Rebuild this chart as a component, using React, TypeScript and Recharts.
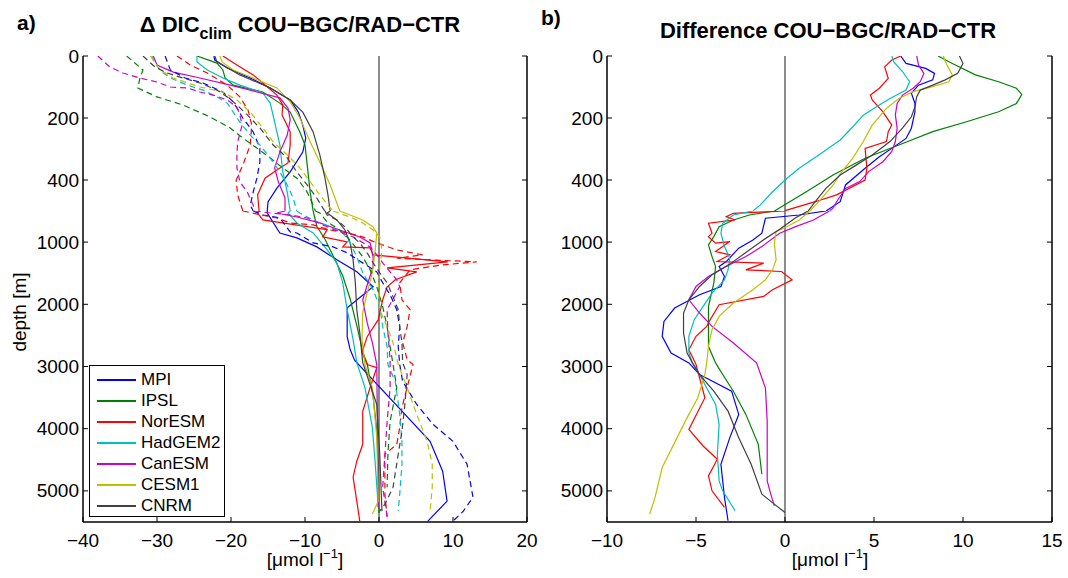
import React from "react";
import { ScatterChart, Scatter, XAxis, YAxis, ReferenceLine, Legend } from "recharts";

// [depth m, value µmol/l]
type Pt = [number, number];

const models = ["MPI", "IPSL", "NorESM", "HadGEM2", "CanESM", "CESM1", "CNRM"];
const colors = ["#0000ff", "#008000", "#ff0000", "#00bfbf", "#cc00cc", "#bfbf00", "#404040"];

const xTicksA = [-40, -30, -20, -10, 0, 10, 20];
const xTicksB = [-10, -5, 0, 5, 10, 15];
const yTicksTop = [0, 200, 400];
const yTicksBot = [1000, 2000, 3000, 4000, 5000];

// panel a, solid lines
const mpiA: Pt[] = [[0, -22.3], [13, -22.2], [39, -20.5], [71, -17.4], [103, -14.7], [142, -12.0], [181, -10.9], [223, -10.3], [265, -9.9], [310, -10.3], [374, -12.0], [426, -13.8], [471, -15.0], [500, -15.1], [532, -15.1], [853, -13.4], [933, -11.1], [1077, -8.4], [1285, -5.7], [1478, -3.0], [1718, -0.8], [2055, -4.3], [2520, -4.3], [2728, -3.9], [2900, -3.3], [4203, 6.9], [4684, 8.6], [5165, 9.2], [5486, 6.6]];
const ipslA: Pt[] = [[0, -24.6], [23, -21.9], [45, -21.1], [71, -20.8], [94, -19.7], [116, -15.7], [152, -13.4], [181, -12.0], [245, -10.7], [287, -10.0], [352, -9.7], [439, -9.3], [500, -8.9], [745, -8.4], [953, -7.3], [1221, -6.2], [1542, -4.9], [1911, -3.9], [2344, -3.0], [2761, -2.2], [2953, -1.6], [3481, -0.8], [4026, -0.3], [4555, -0.1], [5356, 0]];
const noresmA: Pt[] = [[0, -21.1], [29, -19.2], [61, -17.0], [87, -15.7], [126, -13.8], [158, -13.0], [190, -13.1], [245, -12.0], [287, -12.0], [345, -12.3], [368, -13.8], [394, -15.4], [448, -16.4], [500, -16.2], [532, -16.4], [644, -15.7], [800, -7.0], [917, -7.6], [997, -4.3], [1077, -4.9], [1093, -1.2], [1205, -0.8], [1318, 9.3], [1414, 1.1], [1478, 5.1], [1606, 2.2], [1718, 1.1], [1927, 0.5], [2247, -0.1], [2520, -1.6], [2776, -2.3], [2969, -1.6], [3017, -0.3], [3337, -1.2], [3722, -2.2], [4251, -2.2], [4523, -3.0], [4780, -3.5], [5165, -3.0], [5485, -2.6]];
const hadA: Pt[] = [[0, -24.6], [19, -24.6], [45, -23.2], [71, -21.1], [94, -18.8], [119, -15.7], [152, -14.7], [213, -14.1], [287, -13.4], [374, -13.0], [439, -12.4], [500, -12.0], [532, -12.3], [692, -11.1], [853, -8.9], [1125, -7.0], [1334, -5.7], [1654, -4.9], [2087, -4.3], [2568, -3.5], [2937, -3.0], [3337, -1.9], [3978, -0.9], [4572, -0.5], [5261, -0.1]];
const canA: Pt[] = [[0, -30.5], [29, -30.0], [52, -27.8], [71, -24.2], [94, -20.1], [116, -16.5], [135, -13.4], [168, -12.3], [206, -12.0], [255, -12.4], [310, -13.4], [361, -14.1], [406, -13.6], [458, -12.7], [500, -12.7], [532, -13.8], [596, -11.1], [692, -8.0], [805, -5.3], [917, -2.6], [1013, -1.2], [1237, -0.8], [1398, -0.8], [1654, -1.5], [1927, -2.2], [2295, -1.6], [2616, -0.9], [2969, -0.3], [5261, -0.1]];
const cesmA: Pt[] = [[0, -21.5], [19, -21.2], [45, -19.7], [71, -17.0], [103, -13.8], [148, -12.0], [200, -10.7], [277, -9.3], [342, -8.0], [416, -6.6], [500, -5.3], [564, -3.9], [644, -2.2], [756, -0.8], [853, -0.3], [1125, -0.5], [1494, -0.9], [1814, -1.6], [2135, -2.2], [2568, -2.3], [2969, -1.9], [3337, -0.9], [4139, -0.3], [5165, -0.1], [5373, -0.9]];
const cnrmA: Pt[] = [[0, -22.2], [19, -21.9], [61, -18.8], [103, -14.7], [142, -12.0], [181, -10.3], [245, -8.9], [319, -8.0], [394, -7.3], [448, -6.9], [500, -6.6], [532, -7.0], [644, -5.7], [805, -4.6], [1013, -3.9], [1285, -3.5], [1654, -3.2], [2087, -3.0], [2456, -2.6], [2937, -2.2], [3610, -0.3], [4411, 0.1], [5325, 0.4]];

// panel a, dashed lines
const mpiAd: Pt[] = [[0, -28.9], [45, -28.2], [71, -26.2], [87, -23.8], [116, -21.1], [148, -19.7], [200, -18.4], [245, -17.0], [297, -16.1], [342, -16.1], [394, -16.5], [439, -17.0], [481, -17.4], [500, -17.0], [564, -15.7], [612, -13.4], [837, -12.0], [853, -11.1], [1013, -8.9], [1077, -6.2], [1173, -4.3], [1334, -2.2], [1478, -0.3], [1654, 0.5], [1847, 1.5], [2087, 2.4], [2360, 2.8], [2680, 2.6], [2969, 2.8], [3241, 3.2], [3610, 5.1], [3930, 7.3], [4203, 10.0], [4572, 11.9], [5101, 12.7], [5325, 11.4], [5485, 10.0]];
const ipslAd: Pt[] = [[0, -34.1], [45, -31.9], [71, -32.3], [103, -32.6], [132, -30.0], [158, -26.5], [197, -22.8], [232, -20.1], [265, -18.4], [297, -16.5], [329, -14.7], [361, -13.0], [394, -11.1], [439, -9.7], [481, -8.9], [500, -8.6], [532, -8.0], [676, -7.0], [773, -5.7], [917, -4.3], [1077, -3.2], [1237, -2.2], [1446, -1.2], [1718, -0.3], [2039, 0.5], [2360, 1.1], [2680, 1.5], [2969, 1.9], [3337, 2.4], [3882, 1.5], [4411, 1.2], [4940, 1.1]];
const noresmAd: Pt[] = [[0, -27.3], [29, -25.5], [55, -23.2], [94, -20.5], [132, -18.8], [174, -17.7], [223, -17.2], [287, -17.4], [352, -18.4], [400, -19.3], [448, -19.1], [500, -18.4], [560, -16.0], [612, -13.8], [692, -12.0], [724, -8.9], [805, -6.6], [853, -4.3], [917, -2.2], [1013, -0.3], [1125, 2.4], [1205, 5.9], [1260, 2.4], [1290, 7.8], [1318, 13.2], [1366, 8.6], [1446, 4.2], [1654, 2.8], [1927, 3.1], [2087, 4.2], [2360, 3.8], [2616, 3.2], [2889, 3.8], [2969, 4.6], [3337, 3.8], [3658, 3.1], [3978, 2.8], [4251, 2.4], [4411, 0.8], [5053, 0.8], [5421, 1.1]];
const hadAd: Pt[] = [[0, -30.7], [23, -30.3], [52, -29.3], [71, -28.2], [94, -25.9], [110, -23.8], [132, -21.9], [152, -20.5], [181, -19.7], [213, -18.8], [255, -17.4], [287, -16.1], [329, -14.7], [374, -13.4], [416, -12.4], [458, -11.6], [500, -11.1], [532, -10.7], [644, -8.9], [756, -6.6], [853, -4.9], [1013, -3.9], [1237, -3.0], [1494, -2.2], [1766, -0.8], [2039, 0.1], [2360, 0.5], [2680, 1.1], [2969, 1.2], [3241, 2.2], [3770, 2.8], [4203, 3.1], [4572, 3.1], [5053, 2.8], [5325, 2.6]];
const canAd: Pt[] = [[0, -38.0], [35, -36.4], [55, -34.6], [71, -32.3], [84, -30.0], [100, -28.2], [103, -25.9], [116, -24.2], [126, -22.4], [142, -20.5], [165, -19.2], [190, -18.8], [223, -18.5], [277, -19.1], [319, -19.2], [361, -19.2], [406, -18.8], [439, -17.8], [481, -17.0], [500, -16.8], [532, -14.7], [564, -12.0], [612, -9.7], [724, -7.6], [837, -5.3], [917, -3.5], [1077, -1.2], [1205, -0.3], [1334, 0.5], [1478, 1.5], [1606, 2.4], [1718, 2.8], [2087, 1.1], [2456, 1.2], [2889, 1.5], [3337, 1.5], [3882, 1.1], [4411, 0.8], [4940, 0.5], [5421, 1.1]];
const cesmAd: Pt[] = [[0, -30.9], [45, -29.6], [71, -27.8], [100, -24.2], [116, -21.1], [142, -19.2], [181, -17.4], [232, -15.7], [277, -14.3], [319, -12.4], [361, -10.7], [406, -9.3], [448, -8.0], [490, -6.6], [500, -6.2], [532, -5.5], [596, -3.9], [692, -2.2], [805, -0.8], [917, 0.1], [1125, 0.4], [1398, 0.1], [1766, -0.1], [2087, 0.1], [2360, 1.1], [2616, 1.9], [2969, 2.6], [3337, 3.8], [3770, 5.1], [4203, 6.5], [4572, 7.2], [4940, 7.2], [5325, 6.9]];
const cnrmAd: Pt[] = [[0, -31.9], [35, -30.3], [55, -28.6], [71, -26.5], [87, -24.2], [110, -21.9], [132, -20.5], [158, -19.2], [190, -17.8], [232, -16.1], [287, -14.3], [329, -12.4], [374, -11.1], [416, -9.7], [458, -8.4], [490, -7.6], [500, -7.3], [564, -7.0], [644, -5.7], [756, -4.6], [917, -3.5], [1013, -2.6], [1173, -1.6], [1334, -0.8], [1494, 0.1], [1654, 1.1], [1879, 1.9], [2087, 2.6], [2360, 2.8], [2616, 3.1], [2937, 3.2], [3129, 3.8], [3610, 3.5], [4043, 3.1], [4411, 2.6], [4940, 1.9], [5213, 0.8], [5325, 0.1]];

// panel b, differences
const mpiB: Pt[] = [[0, 6.5], [24, 6.8], [40, 7.9], [56, 8.4], [77, 8.3], [94, 7.5], [120, 7.1], [153, 7.3], [180, 7.3], [233, 7.1], [266, 6.8], [298, 6.0], [325, 5.3], [362, 4.5], [416, 3.4], [470, 3.1], [500, 2.3], [564, 0.8], [617, -1.1], [857, -1.3], [965, -1.8], [1098, -2.6], [1313, -3.3], [1393, -3.7], [1553, -3.4], [1713, -3.6], [1847, -4.8], [2060, -6.2], [2275, -6.8], [2515, -6.9], [2782, -6.4], [2942, -5.4], [3129, -4.8], [3397, -3.0], [3770, -2.6], [4144, -3.1], [4571, -3.6], [5105, -3.4], [5480, -3.2]];
const ipslB: Pt[] = [[0, 8.6], [24, 9.4], [61, 10.7], [83, 12.0], [104, 13.0], [124, 13.3], [153, 13.0], [180, 12.0], [212, 10.2], [244, 8.3], [287, 6.4], [330, 4.5], [384, 2.7], [438, 1.2], [497, -0.5], [500, -0.6], [564, -2.0], [644, -2.9], [752, -3.7], [912, -4.0], [1045, -4.3], [1233, -4.1], [1393, -3.9], [1659, -4.0], [2034, -4.3], [2355, -4.3], [2676, -4.3], [2942, -3.9], [3129, -3.5], [3397, -2.9], [3770, -2.2], [4251, -1.5], [4732, -1.3]];
const noresmB: Pt[] = [[0, 6.5], [13, 6.0], [35, 5.6], [72, 5.8], [104, 5.3], [126, 4.8], [142, 4.9], [180, 5.5], [223, 6.0], [244, 5.8], [276, 5.7], [298, 4.5], [362, 4.6], [400, 4.5], [448, 2.9], [470, 1.7], [497, 0.1], [500, 0.0], [537, -2.9], [591, -3.3], [644, -2.8], [697, -4.3], [857, -4.1], [912, -4.3], [1018, -3.9], [992, -3.1], [1152, -3.9], [1205, -3.1], [1313, -3.8], [1339, -1.2], [1446, -2.2], [1473, -0.2], [1606, 0.4], [1766, -0.7], [1874, -1.2], [2007, -3.7], [2247, -4.2], [2355, -4.4], [2515, -5.0], [2729, -5.4], [2969, -5.0], [3503, -4.5], [4011, -5.4], [4278, -4.6], [4491, -3.8], [4759, -4.3], [4999, -4.1], [5266, -3.4], [5507, -4.0]];
const hadB: Pt[] = [[0, 6.0], [18, 6.1], [50, 6.6], [83, 7.0], [110, 6.8], [137, 5.9], [158, 5.3], [191, 4.4], [229, 3.8], [271, 3.1], [319, 1.9], [362, 0.8], [395, 0.1], [438, -0.7], [481, -1.4], [500, -1.8], [564, -2.9], [697, -3.5], [857, -3.6], [1072, -3.4], [1259, -3.1], [1446, -3.2], [1606, -3.4], [1820, -4.1], [2034, -4.6], [2247, -5.1], [2515, -5.4], [2782, -5.4], [2942, -5.2], [3129, -4.8], [3397, -4.3], [3610, -3.9], [3931, -3.7], [4411, -3.8], [4839, -3.7], [4999, -3.5], [5320, -2.8]];
const canB: Pt[] = [[0, 7.4], [29, 7.5], [56, 7.8], [83, 7.6], [104, 7.2], [126, 6.6], [153, 6.3], [190, 6.2], [233, 6.3], [276, 6.2], [308, 6.0], [341, 5.5], [373, 4.7], [405, 4.2], [427, 3.4], [470, 2.9], [491, 2.7], [500, 2.5], [644, 1.6], [752, 0.6], [857, -0.3], [1072, -1.3], [1233, -2.2], [1393, -3.3], [1553, -4.3], [1713, -5.0], [1927, -5.4], [2140, -4.8], [2355, -4.1], [2621, -2.9], [2942, -1.6], [3343, -1.1], [3878, -1.0], [4839, -1.0], [5053, -0.8], [5240, -0.6]];
const cesmB: Pt[] = [[0, 8.9], [18, 9.0], [61, 9.4], [83, 9.2], [99, 8.3], [115, 7.2], [137, 6.4], [169, 5.7], [223, 4.9], [276, 4.4], [330, 3.8], [373, 3.2], [416, 2.7], [470, 1.9], [500, 1.4], [644, 0.8], [752, 0.1], [832, -0.5], [1018, -0.6], [1286, -0.5], [1446, -0.7], [1606, -1.1], [1766, -1.8], [1980, -2.9], [2194, -3.7], [2408, -4.1], [2676, -4.3], [2942, -4.4], [3129, -4.5], [3503, -4.9], [3878, -5.6], [4625, -6.9], [5105, -7.3], [5373, -7.6]];
const cnrmB: Pt[] = [[0, 9.8], [24, 10.0], [56, 9.7], [77, 9.0], [94, 8.3], [110, 7.6], [131, 7.4], [164, 7.3], [196, 7.1], [233, 6.6], [276, 5.9], [319, 4.9], [352, 4.0], [384, 3.1], [427, 2.3], [470, 1.7], [500, 1.3], [607, 0.6], [794, -0.3], [981, -1.3], [1167, -2.2], [1354, -3.1], [1526, -4.1], [1713, -4.8], [1927, -5.4], [2140, -5.7], [2462, -5.7], [2782, -5.5], [2942, -5.2], [3129, -4.8], [3397, -4.0], [3718, -3.2], [4144, -2.6], [4571, -1.9], [5052, -1.3], [5213, -0.6], [5346, 0]];

const solidA = [mpiA, ipslA, noresmA, hadA, canA, cesmA, cnrmA];
const dashedA = [mpiAd, ipslAd, noresmAd, hadAd, canAd, cesmAd, cnrmAd];
const diffB = [mpiB, ipslB, noresmB, hadB, canB, cesmB, cnrmB];

const FONT = "'Liberation Sans', Arial, Helvetica, sans-serif";
const TICK = 5;
const AXW = 83;
const RM = 13;

type Series = { pts: Pt[]; color: string; dashed: boolean; name?: string };

const seriesA: Series[] = [
  ...solidA.map((pts, i) => ({ pts, color: colors[i], dashed: false, name: models[i] })),
  ...dashedA.map((pts, i) => ({ pts, color: colors[i], dashed: true })),
];
const seriesB: Series[] = diffB.map((pts, i) => ({ pts, color: colors[i], dashed: false }));

const part = (pts: Pt[], lo: number, hi: number) =>
  pts.filter(([d]) => d >= lo && d <= hi).map(([d, v]) => ({ x: v, y: d }));

const noDot = () => <g />;
const fmt = (v: number) => (v < 0 ? `\u2212${Math.abs(v)}` : `${v}`);

function LeftTick(props: any) {
  const { x, y, payload } = props;
  return (
    <g>
      <line x1={x + 4} x2={x + 4 + TICK} y1={y} y2={y} stroke="#000" strokeWidth={1} />
      <text x={x} y={y} textAnchor="end" dominantBaseline="central" fontSize={19} fontFamily={FONT} fill="#000">
        {payload.value}
      </text>
    </g>
  );
}

function RightTick(props: any) {
  const { x, y } = props;
  return <line x1={x - TICK} x2={x} y1={y} y2={y} stroke="#000" strokeWidth={1} />;
}

function TopTick(props: any) {
  const { x, y } = props;
  return <line x1={x} x2={x} y1={y} y2={y + TICK} stroke="#000" strokeWidth={1} />;
}

function BottomTickPlain(props: any) {
  const { x, y } = props;
  return <line x1={x} x2={x} y1={y - 8} y2={y - 8 - TICK} stroke="#000" strokeWidth={1} />;
}

function BottomTickLabel(props: any) {
  const { x, y, payload } = props;
  return (
    <g>
      <line x1={x} x2={x} y1={y - 8} y2={y - 8 - TICK} stroke="#000" strokeWidth={1} />
      <text x={x} y={y + 17} textAnchor="middle" fontSize={19} fontFamily={FONT} fill="#000">
        {fmt(payload.value)}
      </text>
    </g>
  );
}

function LegendBox({ payload }: any) {
  const items = (payload || [])
    .filter((p: any) => p.type !== "none" && models.includes(p.value))
    .sort((a: any, b: any) => models.indexOf(a.value) - models.indexOf(b.value));
  return (
    <div
      style={{
        border: "1.5px solid #000",
        background: "#fff",
        width: 136,
        height: 152,
        boxSizing: "border-box",
        padding: "3px 0 0 7px",
        fontFamily: FONT,
        fontSize: 17,
        color: "#000",
      }}
    >
      {items.map((p: any) => (
        <div key={p.value} style={{ display: "flex", alignItems: "center", height: 21 }}>
          <span
            style={{
              display: "inline-block",
              width: 39,
              height: 0,
              borderTop: `2px solid ${colors[models.indexOf(p.value)]}`,
              marginRight: 5,
            }}
          />
          <span>{p.value}</span>
        </div>
      ))}
    </div>
  );
}

const axisLine = { stroke: "#000", strokeWidth: 1.5 };

function DepthChart({
  part: which,
  plotW,
  xDomain,
  xTicks,
  series,
  legend,
}: {
  part: "top" | "bottom";
  plotW: number;
  xDomain: [number, number];
  xTicks: number[];
  series: Series[];
  legend?: boolean;
}) {
  const isTop = which === "top";
  const yDomain: [number, number] = isTop ? [0, 500] : [500, 5500];
  const yTicks = isTop ? yTicksTop : yTicksBot;
  const height = isTop ? 165 : 341;
  return (
    <ScatterChart
      width={AXW + plotW + RM}
      height={height}
      margin={{ top: isTop ? 10 : 0, right: RM - 1, bottom: 0, left: 0 }}
    >
      <XAxis
        xAxisId="b"
        dataKey="x"
        type="number"
        domain={xDomain}
        ticks={xTicks}
        allowDataOverflow
        height={isTop ? 0 : 30}
        tickSize={0}
        tickMargin={8}
        axisLine={axisLine}
        tickLine={false}
        tick={isTop ? <BottomTickPlain /> : <BottomTickLabel />}
        interval={0}
      />
      <XAxis
        xAxisId="t"
        orientation="top"
        dataKey="x"
        type="number"
        domain={xDomain}
        ticks={isTop ? [] : xTicks}
        allowDataOverflow
        height={0}
        tickSize={0}
        tickMargin={0}
        axisLine={axisLine}
        tickLine={false}
        tick={isTop ? false : <TopTick />}
        interval={0}
      />
      <YAxis
        yAxisId="l"
        dataKey="y"
        type="number"
        domain={yDomain}
        ticks={yTicks}
        reversed
        allowDataOverflow
        width={AXW}
        tickSize={0}
        tickMargin={4}
        axisLine={axisLine}
        tickLine={false}
        tick={<LeftTick />}
        interval={0}
      />
      <YAxis
        yAxisId="r"
        orientation="right"
        dataKey="y"
        type="number"
        domain={yDomain}
        ticks={yTicks}
        reversed
        allowDataOverflow
        width={1}
        tickSize={0}
        tickMargin={0}
        axisLine={axisLine}
        tickLine={false}
        tick={<RightTick />}
        interval={0}
      />
      <ReferenceLine x={0} xAxisId="b" yAxisId="l" stroke="#808080" strokeWidth={1.8} />
      {series.map((s, i) => (
        <Scatter
          key={i}
          data={part(s.pts, yDomain[0], yDomain[1])}
          xAxisId="b"
          yAxisId="l"
          name={s.name}
          fill={s.color}
          legendType={s.name ? "line" : "none"}
          line={{ stroke: s.color, strokeWidth: 1.2, strokeDasharray: s.dashed ? "6 4" : undefined }}
          lineType="joint"
          shape={noDot}
          isAnimationActive={false}
        />
      ))}
      {legend && (
        <Legend
          layout="horizontal"
          verticalAlign="middle"
          align="center"
          content={<LegendBox />}
          wrapperStyle={{ left: 89, top: 154, width: 136, height: 152 }}
        />
      )}
    </ScatterChart>
  );
}

const unitLabel = (
  <span>
    [μmol l<sup style={{ fontSize: 13, verticalAlign: 0, position: "relative", top: -8 }}>−1</sup>]
  </span>
);

export default function App() {
  return (
    <div style={{ position: "absolute", left: 0, top: 0, width: 1068, height: 578, background: "#fff", fontFamily: FONT, color: "#000" }}>
      <div style={{ position: "absolute", left: 17, top: 12, fontSize: 21, fontWeight: "bold", lineHeight: "21px" }}>a)</div>
      <div style={{ position: "absolute", left: 541, top: 7, fontSize: 21, fontWeight: "bold", lineHeight: "21px" }}>b)</div>
      <div
        style={{ position: "absolute", left: 300, top: 14, transform: "translateX(-50%)", fontSize: 22, fontWeight: "bold", lineHeight: "22px", whiteSpace: "nowrap" }}
      >
        Δ DIC<span style={{ fontSize: 16, position: "relative", top: 7 }}>clim</span> COU−BGC/RAD−CTR
      </div>
      <div
        style={{ position: "absolute", left: 828, top: 20, transform: "translateX(-50%)", fontSize: 22, fontWeight: "bold", lineHeight: "22px", whiteSpace: "nowrap" }}
      >
        Difference COU−BGC/RAD−CTR
      </div>

      <div style={{ position: "absolute", left: 0, top: 46 }}>
        <DepthChart part="top" plotW={444} xDomain={[-40, 20]} xTicks={xTicksA} series={seriesA} />
      </div>
      <div style={{ position: "absolute", left: 0, top: 211 }}>
        <DepthChart part="bottom" plotW={444} xDomain={[-40, 20]} xTicks={xTicksA} series={seriesA} legend />
      </div>
      <div style={{ position: "absolute", left: 524, top: 46 }}>
        <DepthChart part="top" plotW={445} xDomain={[-10, 15]} xTicks={xTicksB} series={seriesB} />
      </div>
      <div style={{ position: "absolute", left: 524, top: 211 }}>
        <DepthChart part="bottom" plotW={445} xDomain={[-10, 15]} xTicks={xTicksB} series={seriesB} />
      </div>

      <div
        style={{ position: "absolute", left: 20, top: 312, transform: "translate(-50%, -50%) rotate(-90deg)", fontSize: 19, whiteSpace: "nowrap" }}
      >
        depth [m]
      </div>
      <div style={{ position: "absolute", left: 305, top: 549, transform: "translateX(-50%)", fontSize: 19, lineHeight: "22px", whiteSpace: "nowrap" }}>
        {unitLabel}
      </div>
      <div style={{ position: "absolute", left: 830, top: 549, transform: "translateX(-50%)", fontSize: 19, lineHeight: "22px", whiteSpace: "nowrap" }}>
        {unitLabel}
      </div>
    </div>
  );
}
